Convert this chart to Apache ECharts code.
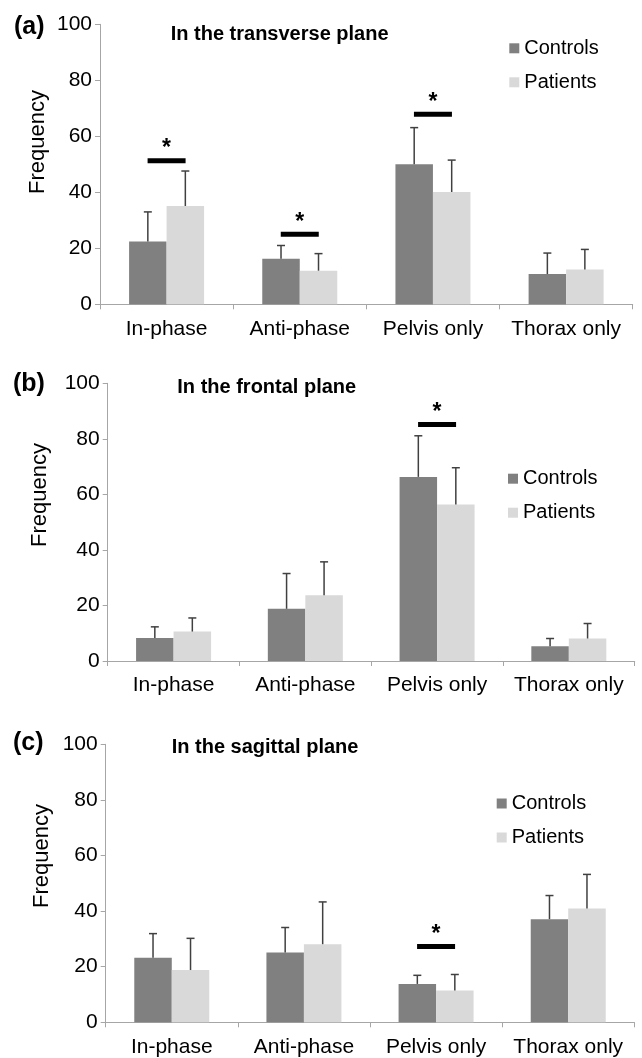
<!DOCTYPE html>
<html>
<head>
<meta charset="utf-8">
<script src="https://cdn.jsdelivr.net/npm/echarts@6/dist/echarts.min.js"></script>
<style>
html,body{margin:0;padding:0;background:#fff;}
#c{width:642px;height:1058px;}
</style>
</head>
<body>
<div id="c"></div>
<script>
// ---- data ----
const categories = ['In-phase', 'Anti-phase', 'Pelvis only', 'Thorax only'];
const seriesNames = ['Controls', 'Patients'];
const yMin = 0, yMax = 100, yStep = 20;

const panelLabels = ['(a)', '(b)', '(c)'];
const panelTitles = ['In the transverse plane', 'In the frontal plane', 'In the sagittal plane'];

// (a) transverse
const controlsA = [22.4, 16.3, 50.0, 10.8];
const controlsSdA = [10.6, 4.7, 13.1, 7.5];
const patientsA = [35.1, 12.0, 40.1, 12.4];
const patientsSdA = [12.5, 6.1, 11.4, 7.2];
const sigCatsA = [0, 1, 2];
const sigLevelsA = [51.3, 25.0, 67.9];

// (b) frontal
const controlsB = [8.3, 18.8, 66.3, 5.3];
const controlsSdB = [4.0, 12.7, 14.8, 2.8];
const patientsB = [10.6, 23.7, 56.4, 8.1];
const patientsSdB = [4.9, 12.0, 13.2, 5.4];
const sigCatsB = [2];
const sigLevelsB = [85.2];

// (c) sagittal
const controlsC = [23.2, 25.1, 13.8, 37.1];
const controlsSdC = [8.7, 9.0, 3.1, 8.5];
const patientsC = [18.8, 28.1, 11.4, 40.9];
const patientsSdC = [11.4, 15.2, 5.8, 12.3];
const sigCatsC = [2];
const sigLevelsC = [27.3];

// ---- layout / style ----
const FONT = "'Liberation Sans', Arial, sans-serif";
const colControls = '#808080';
const colPatients = '#d9d9d9';
const axisCol = '#a6a6a6';
const errCol = '#404040';
const BAR_W = 37.5;

const grids = [
  {left: 100, top: 24.3, width: 532.7, height: 280},
  {left: 107.7, top: 383.3, width: 527, height: 277.7},
  {left: 105.7, top: 744.3, width: 528.6, height: 278}
];
const legendPos = [
  {left: 509.3, top: 38.3},
  {left: 508, top: 468.7},
  {left: 496.7, top: 793.5}
];
const labelPos = [{x: 14, y: 27}, {x: 13, y: 384.5}, {x: 13, y: 743}];
const titlePos = [{x: 170.7, y: 34.5}, {x: 177.3, y: 387}, {x: 171.7, y: 747}];
const freqPos = [{x: 37.5, y: 142}, {x: 39.5, y: 495}, {x: 41.5, y: 856}];

const panels = [
  {c: controlsA, cs: controlsSdA, p: patientsA, ps: patientsSdA, sc: sigCatsA, sl: sigLevelsA},
  {c: controlsB, cs: controlsSdB, p: patientsB, ps: patientsSdB, sc: sigCatsB, sl: sigLevelsB},
  {c: controlsC, cs: controlsSdC, p: patientsC, ps: patientsSdC, sc: sigCatsC, sl: sigLevelsC}
];

function errRender(sign) {
  return function (params, api) {
    const i = api.value(0), m = api.value(1), sd = api.value(2);
    const base = api.coord([i, m]);
    const top = api.coord([i, m + sd]);
    const x = base[0] + sign * BAR_W / 2;
    const st = {stroke: errCol, lineWidth: 1.5};
    return {
      type: 'group',
      children: [
        {type: 'line', shape: {x1: x, y1: base[1], x2: x, y2: top[1]}, style: st},
        {type: 'line', shape: {x1: x - 4, y1: top[1], x2: x + 4, y2: top[1]}, style: st}
      ]
    };
  };
}

function sigRender(params, api) {
  const i = api.value(0), h = api.value(1);
  const pt = api.coord([i, h]);
  return {
    type: 'group',
    children: [
      {type: 'rect', shape: {x: pt[0] - 19, y: pt[1] - 2.5, width: 38, height: 5}, style: {fill: '#000'}},
      {type: 'text', x: pt[0], y: pt[1] - 12, style: {text: '*', fill: '#000', font: 'bold 23px ' + FONT, align: 'center', verticalAlign: 'middle'}}
    ]
  };
}

const xAxes = [], yAxes = [], series = [], legends = [], graphics = [];
panels.forEach((pn, k) => {
  xAxes.push({
    gridIndex: k, type: 'category', data: categories, boundaryGap: true,
    axisLine: {lineStyle: {color: axisCol, width: 1}},
    axisTick: {show: true, length: 5, interval: 0, lineStyle: {color: axisCol}},
    axisLabel: {interval: 0, fontSize: 21, color: '#000', fontFamily: FONT, margin: 14}
  });
  yAxes.push({
    gridIndex: k, type: 'value', min: yMin, max: yMax, interval: yStep,
    axisLine: {show: true, lineStyle: {color: axisCol, width: 1}},
    axisTick: {show: true, length: 5, lineStyle: {color: axisCol}},
    splitLine: {show: false},
    axisLabel: {fontSize: 21, color: '#000', fontFamily: FONT, margin: 8}
  });
  series.push({
    name: seriesNames[0], type: 'bar', xAxisIndex: k, yAxisIndex: k,
    data: pn.c, barWidth: BAR_W, barGap: '0%', itemStyle: {color: colControls}, silent: true
  });
  series.push({
    name: seriesNames[1], type: 'bar', xAxisIndex: k, yAxisIndex: k,
    data: pn.p, barWidth: BAR_W, barGap: '0%', itemStyle: {color: colPatients}, silent: true
  });
  series.push({
    type: 'custom', xAxisIndex: k, yAxisIndex: k, z: 5, silent: true,
    renderItem: errRender(-1),
    data: categories.map((c, i) => [i, pn.c[i], pn.cs[i]])
  });
  series.push({
    type: 'custom', xAxisIndex: k, yAxisIndex: k, z: 5, silent: true,
    renderItem: errRender(1),
    data: categories.map((c, i) => [i, pn.p[i], pn.ps[i]])
  });
  series.push({
    type: 'custom', xAxisIndex: k, yAxisIndex: k, z: 6, silent: true,
    renderItem: sigRender,
    data: pn.sc.map((ci, j) => [ci, pn.sl[j]])
  });
  legends.push({
    left: legendPos[k].left, top: legendPos[k].top, orient: 'vertical', padding: 0,
    itemWidth: 10, itemHeight: 10, itemGap: 14, icon: 'rect', selectedMode: false,
    data: seriesNames,
    textStyle: {fontSize: 20, color: '#000', fontFamily: FONT, padding: [0, 0, 0, 0]}
  });
  graphics.push({
    type: 'text', x: labelPos[k].x, y: labelPos[k].y,
    style: {text: panelLabels[k], font: 'bold 25px ' + FONT, fill: '#000', align: 'left', verticalAlign: 'middle'}
  });
  graphics.push({
    type: 'text', x: titlePos[k].x, y: titlePos[k].y,
    style: {text: panelTitles[k], font: 'bold 20px ' + FONT, fill: '#000', align: 'left', verticalAlign: 'middle'}
  });
  graphics.push({
    type: 'text', x: freqPos[k].x, y: freqPos[k].y, rotation: Math.PI / 2,
    style: {text: 'Frequency', font: '22px ' + FONT, fill: '#000', align: 'center', verticalAlign: 'middle'}
  });
});

const chart = echarts.init(document.getElementById('c'), null, {renderer: 'canvas'});
chart.setOption({
  backgroundColor: '#fff',
  animation: false,
  grid: grids,
  xAxis: xAxes,
  yAxis: yAxes,
  legend: legends,
  series: series,
  graphic: graphics
});
</script>
</body>
</html>
